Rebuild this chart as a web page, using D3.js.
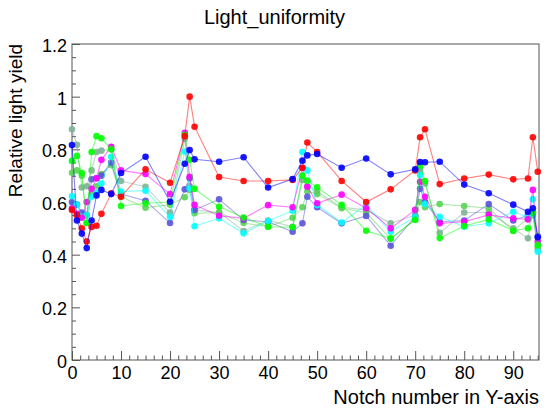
<!DOCTYPE html>
<html>
<head>
<meta charset="utf-8">
<script src="https://cdn.jsdelivr.net/npm/d3@7"></script>
<style>
  body { margin: 0; background: #fff; }
  svg { font-family: "Liberation Sans", Arial, Helvetica, sans-serif; }
</style>
</head>
<body>
<svg id="chart" width="549" height="411"></svg>
<script>
// notch positions (x) shared by all series
const notch = [0,1,2,3,4,5,6,8,10,15,20,23,24,25,30,35,40,45,47,48,50,55,60,65,70,71,72,75,80,85,90,93,94,95];

// relative light yield per series
const grayGreen = [0.876,0.817,0.655,0.66,0.72,0.79,0.795,0.80,0.68,0.658,0.56,0.84,0.66,0.57,0.56,0.49,0.53,0.506,0.684,0.66,0.64,0.58,0.57,0.519,0.55,0.72,0.67,0.483,0.56,0.56,0.50,0.462,0.56,0.42];
const darkGreen = [0.711,0.72,0.70,0.52,0.63,0.66,0.706,0.74,0.62,0.578,0.59,0.618,0.646,0.557,0.56,0.52,0.506,0.54,0.58,0.64,0.63,0.576,0.56,0.46,0.535,0.60,0.58,0.592,0.585,0.576,0.49,0.54,0.55,0.43];
const slateBlue = [0.60,0.59,0.56,0.55,0.686,0.69,0.70,0.75,0.63,0.605,0.52,0.648,0.69,0.57,0.61,0.532,0.525,0.487,0.519,0.62,0.58,0.519,0.547,0.434,0.545,0.65,0.60,0.525,0.53,0.592,0.53,0.55,0.56,0.47];
const cyan = [0.622,0.59,0.544,0.55,0.62,0.635,0.67,0.772,0.64,0.643,0.543,0.792,0.652,0.508,0.538,0.481,0.528,0.567,0.79,0.72,0.589,0.522,0.589,0.487,0.544,0.703,0.592,0.544,0.506,0.519,0.563,0.542,0.61,0.411];
const magenta = [0.576,0.555,0.54,0.60,0.65,0.69,0.76,0.81,0.72,0.706,0.63,0.863,0.696,0.589,0.548,0.538,0.588,0.58,0.729,0.658,0.595,0.628,0.576,0.50,0.57,0.677,0.62,0.519,0.525,0.551,0.538,0.534,0.646,0.45];
const green = [0.756,0.775,0.71,0.52,0.79,0.85,0.842,0.80,0.585,0.595,0.60,0.855,0.76,0.65,0.582,0.541,0.506,0.504,0.70,0.681,0.656,0.589,0.491,0.462,0.532,0.737,0.68,0.463,0.509,0.534,0.491,0.50,0.56,0.437];
const red = [0.57,0.55,0.50,0.45,0.505,0.51,0.555,0.633,0.62,0.724,0.673,0.85,1.0,0.886,0.695,0.68,0.68,0.684,0.73,0.826,0.79,0.68,0.60,0.648,0.72,0.846,0.876,0.668,0.689,0.704,0.686,0.689,0.846,0.715];
const blue = [0.816,0.53,0.48,0.425,0.53,0.625,0.646,0.63,0.71,0.772,0.601,0.745,0.797,0.762,0.753,0.77,0.655,0.687,0.757,0.777,0.782,0.73,0.765,0.705,0.724,0.752,0.751,0.753,0.666,0.633,0.59,0.563,0.576,0.466];

const seriesList = [
  { values: grayGreen, color: "#7fb394" },
  { values: darkGreen, color: "#59d454" },
  { values: slateBlue, color: "#5954d9" },
  { values: cyan, color: "#00ffff" },
  { values: magenta, color: "#ff00ff" },
  { values: green, color: "#00ff00" },
  { values: red, color: "#ff0000" },
  { values: blue, color: "#0000ff" },
];

const yMajor = [0, 0.2, 0.4, 0.6, 0.8, 1, 1.2];
const xMajor = [0, 10, 20, 30, 40, 50, 60, 70, 80, 90];

const svg = d3.select("#chart");
const frame = { left: 72, right: 539, top: 44, bottom: 360 };

const x = d3.scaleLinear().domain([0, 95.25]).range([frame.left, frame.right]);
const y = d3.scaleLinear().domain([0, 1.2]).range([frame.bottom, frame.top]);

// title
svg.append("text")
  .attr("x", 274.5).attr("y", 24)
  .attr("text-anchor", "middle")
  .style("font-size", "20px")
  .text("Light_uniformity");

// frame
svg.append("rect")
  .attr("x", frame.left).attr("y", frame.top)
  .attr("width", frame.right - frame.left)
  .attr("height", frame.bottom - frame.top)
  .attr("fill", "none").attr("stroke", "#555").attr("stroke-width", 1);

// y axis, ticks pointing into the frame
const yMinor = d3.range(0, 1.2001, 0.05).filter(v => !yMajor.some(m => Math.abs(m - v) < 1e-6));
svg.append("g")
  .attr("transform", `translate(${frame.left},0)`)
  .call(d3.axisLeft(y).tickValues(yMinor).tickSize(-4).tickFormat(""))
  .call(g => g.select(".domain").remove());
const yAxis = svg.append("g")
  .attr("transform", `translate(${frame.left},0)`)
  .call(d3.axisLeft(y).tickValues(yMajor).tickSize(-8).tickPadding(5).tickFormat(d3.format("~g")))
  .call(g => g.select(".domain").remove());
yAxis.selectAll("text").attr("dy", "0.42em").style("font-size", "18px").attr("fill", "#000");

// x axis
const xMinor = [];
for (let i = 0; i < 10; i++) {
  for (let k = 1; k < 6; k++) {
    const v = i * 10 + k * 10 / 6;
    if (v < 95.25) xMinor.push(v);
  }
}
svg.append("g")
  .attr("transform", `translate(0,${frame.bottom})`)
  .call(d3.axisBottom(x).tickValues(xMinor).tickSize(-4.5).tickFormat(""))
  .call(g => g.select(".domain").remove());
const xAxis = svg.append("g")
  .attr("transform", `translate(0,${frame.bottom})`)
  .call(d3.axisBottom(x).tickValues(xMajor).tickSize(-9).tickPadding(6).tickFormat(d3.format("d")))
  .call(g => g.select(".domain").remove());
xAxis.selectAll("text").style("font-size", "18px").attr("fill", "#000");
svg.selectAll(".tick line").attr("stroke", "#555");

// axis titles (right aligned like ROOT)
svg.append("text")
  .attr("x", frame.right).attr("y", 404)
  .attr("text-anchor", "end")
  .style("font-size", "20px")
  .text("Notch number in Y-axis");
svg.append("text")
  .attr("transform", `translate(22,${frame.top}) rotate(-90)`)
  .attr("text-anchor", "end")
  .style("font-size", "19px")
  .text("Relative light yield");

// series
const line = d3.line().x((d, i) => x(notch[i])).y(d => y(d));
const plot = svg.append("g");
seriesList.forEach(s => {
  const g = plot.append("g");
  g.append("path")
    .attr("d", line(s.values))
    .attr("fill", "none")
    .attr("stroke", s.color)
    .attr("stroke-opacity", 0.5)
    .attr("stroke-width", 1.1);
  g.selectAll("circle")
    .data(s.values)
    .enter()
    .append("circle")
    .attr("cx", (d, i) => x(notch[i]))
    .attr("cy", d => y(d))
    .attr("r", 3.3)
    .attr("fill", s.color)
    .attr("fill-opacity", 0.9);
});
</script>
</body>
</html>
